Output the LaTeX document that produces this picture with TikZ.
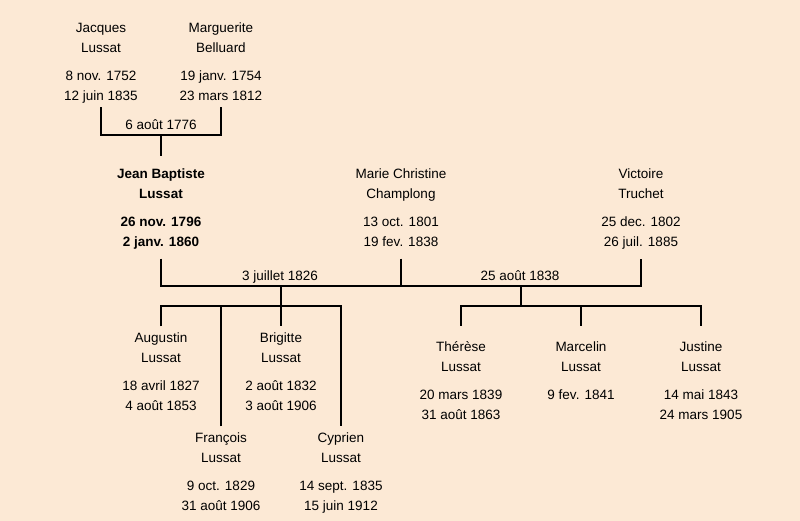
\documentclass[tikz,border=0pt]{standalone}
\usepackage{fontspec}
\setmainfont{Liberation Sans}
\definecolor{paper}{HTML}{FCE9D5}

\begin{document}
\begin{tikzpicture}[x=1pt,y=-1pt]
    \tikzstyle{person}=[anchor=north,align=center,inner xsep=0pt,inner ysep=0pt,text height=84pt,text depth=6pt,font=\fontsize{13.5}{20}\selectfont]
    \tikzstyle{wedding}=[anchor=base,inner sep=0pt,font=\fontsize{13.5}{20}\selectfont]
    \tikzstyle{link}=[line width=2pt,black]
    \fill[paper] (0,0) rectangle (800,521);
    \useasboundingbox (0,0) rectangle (800,521);
    % grandparents
    \node (jacques)[person] at (101,16.7) {Jacques\\Lussat\\[8pt]8 nov. 1752\\12 juin 1835};
    \node (marguerite)[person] at (221,16.7) {Marguerite\\Belluard\\[8pt]19 janv. 1754\\23 mars 1812};
    \coordinate (bar1) at (161,135.5);
    \node (m1)[wedding] at (161,130) {6 août 1776};
    % parents
    \node (jean)[person,font=\fontsize{13.5}{20}\selectfont\bfseries] at (161,162.3) {Jean Baptiste\\Lussat\\[8pt]26 nov. 1796\\2 janv. 1860};
    \node (marie)[person] at (401,162.3) {Marie Christine\\Champlong\\[8pt]13 oct. 1801\\19 fev. 1838};
    \node (victoire)[person] at (641,162.3) {Victoire\\Truchet\\[8pt]25 dec. 1802\\26 juil. 1885};
    \coordinate (bar2) at (281,285.5);
    \coordinate (bar3) at (521,285.5);
    \node (m2)[wedding] at (280,280) {3 juillet 1826};
    \node (m3)[wedding] at (520,280) {25 août 1838};
    % children
    \node (augustin)[person] at (161,326.3) {Augustin\\Lussat\\[8pt]18 avril 1827\\4 août 1853};
    \node (brigitte)[person] at (281,326.3) {Brigitte\\Lussat\\[8pt]2 août 1832\\3 août 1906};
    \node (francois)[person] at (221,426.3) {François\\Lussat\\[8pt]9 oct. 1829\\31 août 1906};
    \node (cyprien)[person] at (341,426.3) {Cyprien\\Lussat\\[8pt]14 sept. 1835\\15 juin 1912};
    \node (therese)[person] at (461,335.7) {Thérèse\\Lussat\\[8pt]20 mars 1839\\31 août 1863};
    \node (marcelin)[person,text height=64pt] at (581,335.7) {Marcelin\\Lussat\\[8pt]9 fev. 1841};
    \node (justine)[person] at (701,335.7) {Justine\\Lussat\\[8pt]14 mai 1843\\24 mars 1905};
    \coordinate (fam1) at (281,305.5);
    \coordinate (fam2) at (521,305.5);
    % lines
    \draw[link] (jacques) |- (bar1) -| (marguerite);
    \draw[link,shorten >=6pt] (bar1) -- (jean);
    \draw[link,shorten <=6pt,shorten >=6pt] (jean) |- (bar2) -- (bar3) -| (victoire);
    \draw[link,shorten <=6pt] (marie) -- (marie.south |- bar2);
    \draw[link] (bar2) -- (fam1);
    \draw[link] (augustin) |- (fam1) -| (cyprien);
    \draw[link] (fam1) -- (brigitte);
    \draw[link] (francois) -- (francois.north |- fam1);
    \draw[link] (bar3) -- (fam2);
    \draw[link,shorten <=10pt,shorten >=10pt] (therese) |- (fam2) -| (justine);
    \draw[link,shorten <=10pt] (marcelin) -- (marcelin.north |- fam2);
\end{tikzpicture}
\end{document}
